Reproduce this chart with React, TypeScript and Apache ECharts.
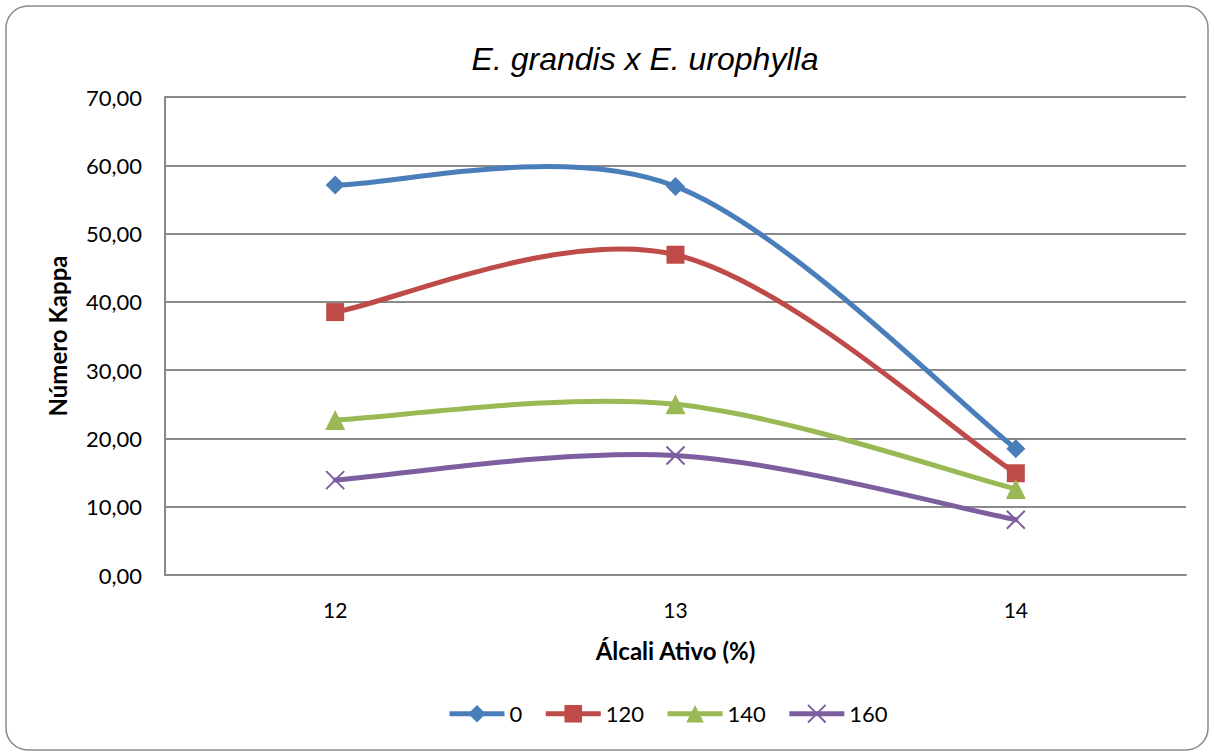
import React, { useEffect, useRef } from "react";
import * as echarts from "echarts";

const categories = ["12", "13", "14"];
const seriesNames = ["0", "120", "140", "160"];
const s0 = [57.1, 56.9, 18.5];
const s120 = [38.5, 46.9, 14.9];
const s140 = [22.7, 25.0, 12.6];
const s160 = [13.9, 17.5, 8.1];
const yTicks = [0, 10, 20, 30, 40, 50, 60, 70];
const colors = ["#4a7ebb", "#be4b48", "#98b954", "#7d5fa0"];
const symbols = ["diamond", "rect", "triangle", "path://M0,0 L10,10 M10,0 L0,10"];

const FONT = "Lato, 'Open Sans', sans-serif";

export default function App() {
  const ref = useRef<HTMLDivElement>(null);
  useEffect(() => {
    if (!ref.current) return;
    const chart = echarts.init(ref.current, null, { renderer: "svg" });
    const data = [s0, s120, s140, s160];
    const sizes = [19, 18, 20, 18];

    // Excel-style smoothed curves (Catmull-Rom, tension 1/6) through axis coords
    const curveSeries = data.map((d, i) => ({
      name: "curve" + i,
      type: "custom",
      z: 1,
      silent: true,
      data: d.map((v, k) => [k, v]),
      encode: { x: 0, y: 1 },
      renderItem: (params: any, api: any) => {
        if (params.dataIndex !== 0) return null;
        const pts = d.map((v, k) => api.coord([k, v]));
        let p = `M${pts[0][0]},${pts[0][1]}`;
        for (let k = 0; k < pts.length - 1; k++) {
          const p0 = pts[k - 1] || pts[k];
          const p1 = pts[k];
          const p2 = pts[k + 1];
          const p3 = pts[k + 2] || pts[k + 1];
          const c1x = p1[0] + (p2[0] - p0[0]) / 6;
          const c1y = p1[1] + (p2[1] - p0[1]) / 6;
          const c2x = p2[0] - (p3[0] - p1[0]) / 6;
          const c2y = p2[1] - (p3[1] - p1[1]) / 6;
          p += ` C${c1x},${c1y} ${c2x},${c2y} ${p2[0]},${p2[1]}`;
        }
        return {
          type: "path",
          shape: { pathData: p },
          style: { fill: "none", stroke: colors[i], lineWidth: 5, lineCap: "round", lineJoin: "round" },
        };
      },
    }));

    chart.setOption({
      animation: false,
      backgroundColor: "#fff",
      textStyle: { fontFamily: FONT },
      title: {
        text: "E. grandis x E. urophylla",
        left: 640,
        top: 38,
        textAlign: "center",
        textStyle: {
          fontFamily: "'Liberation Sans', Arial, sans-serif",
          fontStyle: "italic",
          fontWeight: "normal",
          fontSize: 32,
          color: "#000",
        },
      },
      graphic: [
        {
          type: "rect",
          shape: { x: 6, y: 6, width: 1202, height: 744, r: 22 },
          style: { fill: "none", stroke: "#8a8a8a", lineWidth: 1.5 },
          silent: true,
          z: -1,
        },
      ],
      legend: {
        bottom: 25,
        left: 442,
        itemWidth: 55,
        itemHeight: 22,
        itemGap: 21,
        textStyle: { fontSize: 22, color: "#000", fontFamily: FONT },
        lineStyle: { width: 5, opacity: 1 },
        data: seriesNames,
      },
      grid: { left: 165, right: 28, top: 97, bottom: 180, containLabel: false },
      xAxis: {
        type: "category",
        data: categories,
        boundaryGap: true,
        name: "Álcali Ativo (%)",
        nameLocation: "middle",
        nameGap: 63,
        nameTextStyle: { fontSize: 24, fontWeight: "bold", color: "#000", fontFamily: FONT },
        axisLine: { lineStyle: { color: "#8a8a8a", width: 2 } },
        axisTick: { show: false },
        axisLabel: { fontSize: 21, color: "#000", margin: 24, fontFamily: FONT },
      },
      yAxis: {
        type: "value",
        min: yTicks[0],
        max: yTicks[yTicks.length - 1],
        interval: yTicks[1] - yTicks[0],
        name: "Número Kappa",
        nameLocation: "middle",
        nameGap: 96,
        nameRotate: 90,
        nameTextStyle: { fontSize: 24, fontWeight: "bold", color: "#000", fontFamily: FONT, padding: [0, 0, 0, 0] },
        axisLine: { show: true, lineStyle: { color: "#8a8a8a", width: 2 } },
        axisTick: { show: false },
        splitLine: { lineStyle: { color: "#8a8a8a", width: 2 } },
        axisLabel: {
          fontSize: 22,
          color: "#000",
          margin: 23,
          fontFamily: FONT,
          formatter: (v: number) => v.toFixed(2).replace(".", ","),
        },
      },
      series: [
        ...curveSeries,
        ...data.map((d, i) => ({
          name: seriesNames[i],
          type: "line",
          data: d,
          z: 3,
          color: colors[i],
          symbol: symbols[i],
          symbolSize: sizes[i],
          showSymbol: true,
          lineStyle: { width: 5, color: colors[i], opacity: 0 },
          itemStyle:
            i === 3
              ? { color: "none", borderColor: colors[i], borderWidth: 2 }
              : { color: colors[i] },
          emphasis: { disabled: true },
        })),
      ],
    });
    return () => chart.dispose();
  }, []);
  return (
    <div style={{ position: "fixed", left: 0, top: 0, width: 1214, height: 755, background: "#fff" }}>
      <div ref={ref} style={{ width: 1214, height: 755 }} />
    </div>
  );
}
